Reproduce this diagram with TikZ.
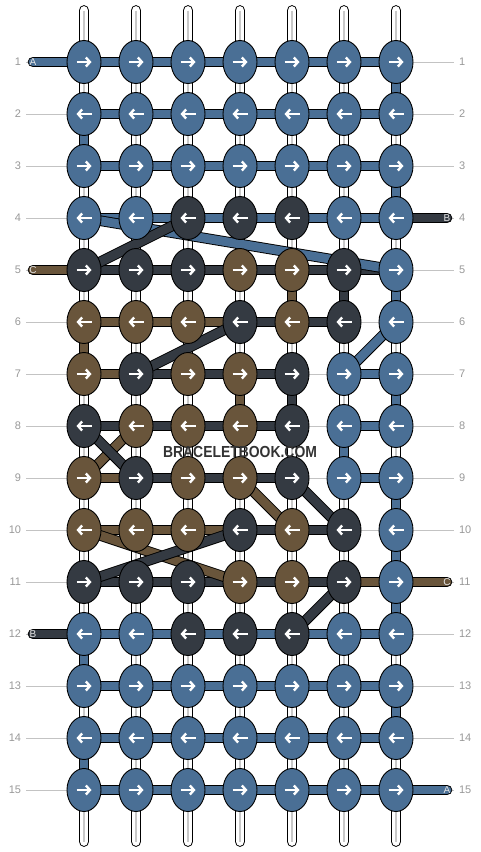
\documentclass[tikz,border=0pt]{standalone}
\usepackage{fontspec}
\setmainfont{Liberation Sans}
\usetikzlibrary{arrows.meta, shapes.geometric}

\definecolor{cB}{HTML}{4A6F95}
\definecolor{cD}{HTML}{343A42}
\definecolor{cN}{HTML}{69553B}
\definecolor{guidegray}{HTML}{C3C3C3}
\definecolor{numgray}{HTML}{989898}
\definecolor{warpgray}{HTML}{C8C8C8}
\definecolor{wmgray}{HTML}{333333}

\pgfdeclarelayer{guides}
\pgfdeclarelayer{warps}
\pgfdeclarelayer{strands}
\pgfsetlayers{guides,warps,strands,main}

\begin{document}
\begin{tikzpicture}[x=1pt, y=-1pt,
    knot/.style={ellipse, draw=black, line width=0.9pt, minimum width=34pt,
                 minimum height=43pt, inner sep=0pt},
    knotarrow/.style={white, line width=2.4pt,
                      -{Straight Barb[length=4pt, width=9pt]}},
    knotR/.style={knot, path picture={\draw[knotarrow]
        ([xshift=-7.5pt]path picture bounding box.center) --
        ([xshift=7.5pt]path picture bounding box.center);}},
    knotL/.style={knot, path picture={\draw[knotarrow]
        ([xshift=7.5pt]path picture bounding box.center) --
        ([xshift=-7.5pt]path picture bounding box.center);}},
    knotrow/.code={\ifodd#1 \pgfkeysalso{knotR}\else\pgfkeysalso{knotL}\fi},
    strand/.style={draw=black, line width=0.9pt, double=#1, double distance=8.8pt},
    stub/.style={strand=#1, line cap=round},
    warp/.style={draw=black, line width=1pt, double=white,
                 double distance=8.8pt, line cap=round},
    warpline/.style={warpgray, line width=1.2pt},
    guide/.style={guidegray, line width=0.8pt},
    rownum/.style={numgray, font=\fontsize{11}{11}\selectfont,
                   inner sep=0pt, outer sep=5pt},
    tagtext/.style={white!90!black, font=\fontsize{10}{10}\selectfont, inner sep=0pt},
    wmark/.style={wmgray, font=\bfseries\fontsize{16}{16}\selectfont, inner sep=0pt}]
    \useasboundingbox (0,0) rectangle (480,852);

    % Knots - one row per line, colours left to right
    \foreach \r/\ca/\cb/\cc/\cd/\ce/\cf/\cg in {
        1/B/B/B/B/B/B/B, 2/B/B/B/B/B/B/B, 3/B/B/B/B/B/B/B,
        4/B/B/D/D/D/B/B, 5/D/D/D/N/N/D/B, 6/N/N/N/D/N/D/B,
        7/N/D/N/N/D/B/B, 8/D/N/N/N/D/B/B, 9/N/D/N/N/D/B/B,
        10/N/N/N/D/N/D/B, 11/D/D/D/N/N/D/B, 12/B/B/D/D/D/B/B,
        13/B/B/B/B/B/B/B, 14/B/B/B/B/B/B/B, 15/B/B/B/B/B/B/B}{
        \foreach \col [count=\k] in {\ca,\cb,\cc,\cd,\ce,\cf,\cg}
            \node[knotrow=\r, fill=c\col] (k\r-\k)
                at ({84+52*(\k-1)}, {62+52*(\r-1)}) {};
    }

    % Row numbers and guide lines
    \begin{pgfonlayer}{guides}
        \foreach \r in {1,...,15} {
            \node[rownum, anchor=east] (ln\r) at (26, {62+52*(\r-1)}) {\r};
            \node[rownum, anchor=west] (rn\r) at (454, {62+52*(\r-1)}) {\r};
            \draw[guide] (ln\r) -- (rn\r);
        }
    \end{pgfonlayer}

    % Warp strings
    \begin{pgfonlayer}{warps}
        \foreach \k in {1,...,7} {
            \coordinate (wt\k) at ({84+52*(\k-1)}, 10.5);
            \coordinate (wb\k) at ({84+52*(\k-1)}, 841.5);
            \draw[warp] (wt\k) -- (wb\k);
            \draw[warpline] (wt\k) -- (wb\k);
        }
    \end{pgfonlayer}

    \begin{pgfonlayer}{strands}
        % Turns at the edges, colour carried straight down
        \foreach \r/\k/\col in {1/7/B, 2/1/B, 3/7/B, 5/5/N, 5/6/D, 5/7/B,
                6/1/N, 7/4/N, 7/5/D, 7/7/B, 8/6/B, 9/7/B, 10/7/B, 11/7/B,
                12/1/B, 13/7/B, 14/1/B} {
            \pgfmathtruncatemacro\n{\r+1}
            \draw[strand=c\col] (k\r-\k.center) -- (k\n-\k.center);
        }

        % Horizontal strands between knots (O = none)
        \foreach \r/\sa/\sb/\sc/\sd/\se/\sf in {
            1/B/B/B/B/B/B, 2/B/B/B/B/B/B, 3/B/B/B/B/B/B,
            4/B/B/B/B/B/B, 5/D/D/D/D/D/D, 6/N/N/N/D/D/O,
            7/N/D/D/D/O/B, 8/D/D/D/D/O/B, 9/N/D/D/D/O/B,
            10/N/N/N/D/D/O, 11/D/D/D/D/D/N, 12/B/B/B/B/B/B,
            13/B/B/B/B/B/B, 14/B/B/B/B/B/B, 15/B/B/B/B/B/B}{
            \foreach \s [count=\k] in {\sa,\sb,\sc,\sd,\se,\sf} {
                \if\s O\else
                    \pgfmathtruncatemacro\n{\k+1}
                    \draw[strand=c\s] (k\r-\k.center) -- (k\r-\n.center);
                \fi
            }
        }

        % Loose ends with their letters
        \foreach \r/\k/\xe/\col/\lbl in {1/1/33/B/A, 4/7/447/D/B, 5/1/33/N/C,
                11/7/447/N/C, 12/1/33/D/B, 15/7/447/B/A} {
            \coordinate (end\r) at (\xe, {62+52*(\r-1)});
            \draw[stub=c\col] (end\r) -- (k\r-\k.center);
            \node[tagtext] (tag\r) at (end\r) {\lbl};
        }

        % Colours carried on the slant
        \foreach \ra/\ka/\rb/\kb/\col in {4/1/5/7/B, 5/1/4/3/D, 6/4/7/2/D,
                6/7/7/6/B, 8/2/9/1/N, 8/1/9/2/D, 9/4/10/5/N, 9/5/10/6/D,
                10/1/11/4/N, 11/1/10/4/D, 11/6/12/5/D}
            \draw[strand=c\col] (k\ra-\ka.center) -- (k\rb-\kb.center);
    \end{pgfonlayer}

    \node[wmark] (wm) at (240, 451.5) {\scalebox{0.87}[1]{BRACELETBOOK.COM}};
\end{tikzpicture}
\end{document}
